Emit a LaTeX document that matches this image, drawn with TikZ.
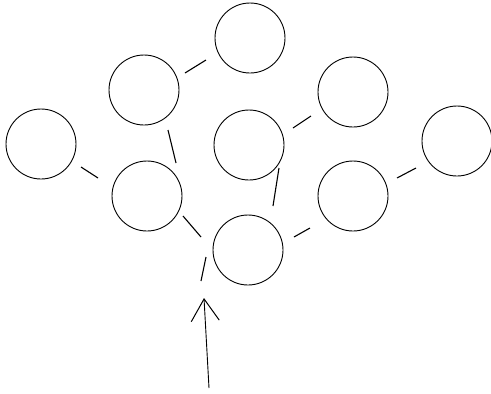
\documentclass[tikz,border=0pt]{standalone}
\usetikzlibrary{arrows.meta}
\begin{document}
\begin{tikzpicture}[x=1pt,y=-1pt,
  nd/.style={draw, circle, minimum size=70pt, inner sep=0pt, line width=0.9pt},
  edge/.style={line width=1.1pt},
  inarrow/.style={line width=0.9pt, -{Straight Barb[length=22pt,width=28pt,line width=1pt]}}]
\useasboundingbox (0,0) rectangle (491,394);
% nodes
\node[nd] (top) at (250,38) {};
\node[nd] (ul) at (144,90) {};
\node[nd] (ur) at (353,92) {};
\node[nd] (fl) at (41,144) {};
\node[nd] (mid) at (249,145) {};
\node[nd] (fr) at (457,141) {};
\node[nd] (ll) at (147,196) {};
\node[nd] (lr) at (353,196) {};
\node[nd] (bot) at (248,250) {};
% connector end points
\coordinate (a1) at (185,73);  \coordinate (a2) at (206,60);
\coordinate (b1) at (81,167);  \coordinate (b2) at (98,178);
\coordinate (c1) at (168,130); \coordinate (c2) at (176,163);
\coordinate (d1) at (183,216); \coordinate (d2) at (201,237);
\coordinate (e1) at (279,168); \coordinate (e2) at (273,206);
\coordinate (f1) at (293,128); \coordinate (f2) at (311,116);
\coordinate (g1) at (294,237); \coordinate (g2) at (310,228);
\coordinate (h1) at (397,178); \coordinate (h2) at (416,168);
\coordinate (i1) at (206,257); \coordinate (i2) at (201,281);
\coordinate (tail) at (209,388); \coordinate (tip) at (204,298);
% connectors
\draw[edge] (a1) -- (a2);
\draw[edge] (b1) -- (b2);
\draw[edge] (c1) -- (c2);
\draw[edge] (d1) -- (d2);
\draw[edge] (e1) -- (e2);
\draw[edge] (f1) -- (f2);
\draw[edge] (g1) -- (g2);
\draw[edge] (h1) -- (h2);
\draw[edge] (i1) -- (i2);
\draw[inarrow] (tail) -- (tip);
\end{tikzpicture}
\end{document}
